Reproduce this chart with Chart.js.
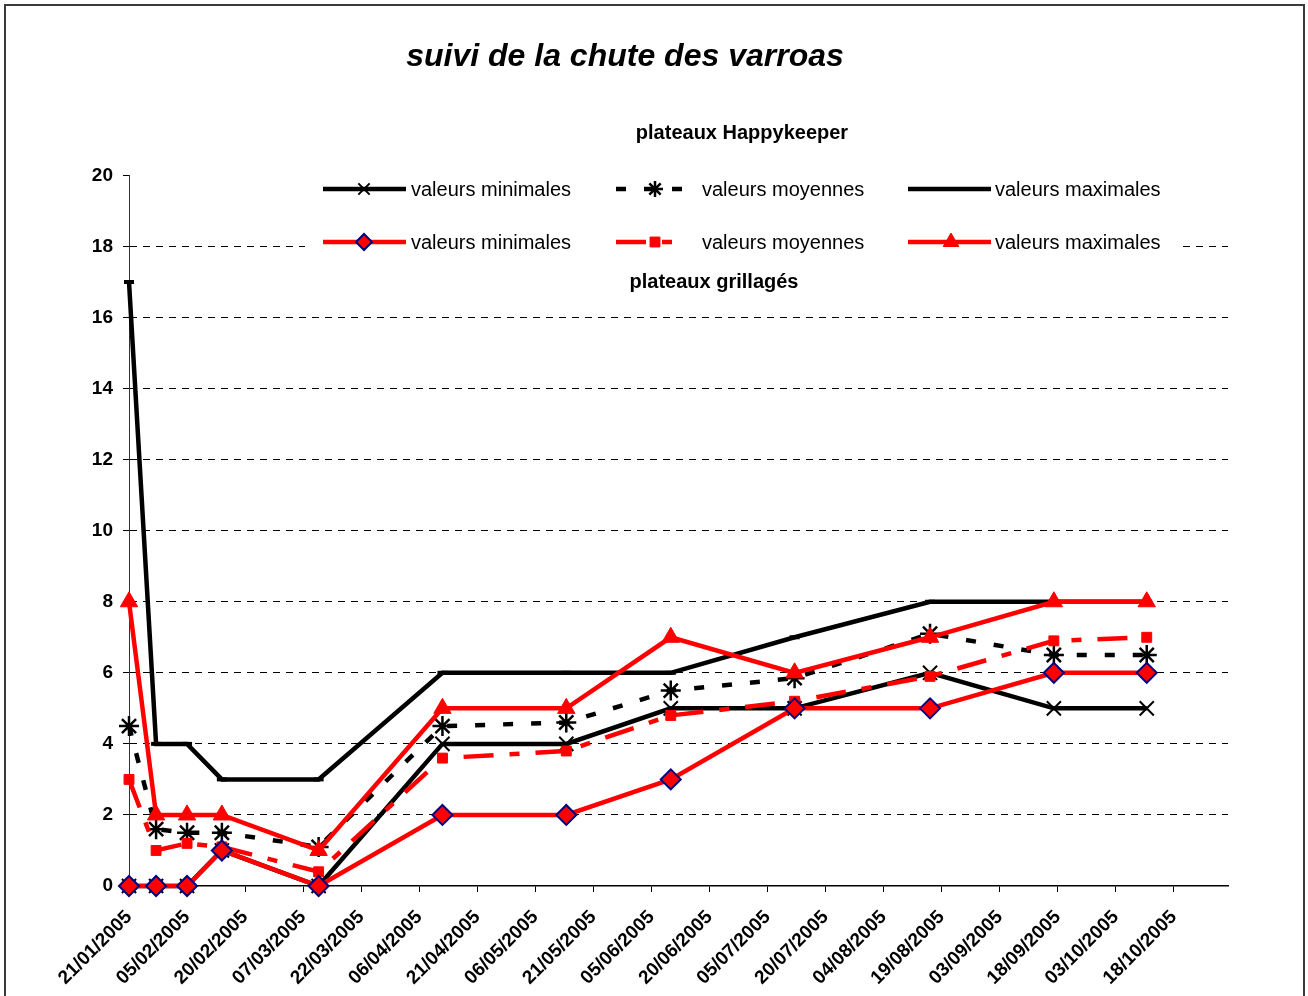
<!DOCTYPE html>
<html>
<head>
<meta charset="utf-8">
<title>suivi de la chute des varroas</title>
<script src="https://cdn.jsdelivr.net/npm/chart.js@4.4.1/dist/chart.umd.min.js"></script>
<style>
  html, body { margin: 0; padding: 0; background: #fff; }
  #wrap { width: 1308px; height: 996px; }
</style>
</head>
<body>
<div id="wrap"><canvas id="chart" width="1308" height="996"></canvas></div>
<script>
// --- DONNÉES ---
const tickDates = ['21/01/2005', '05/02/2005', '20/02/2005', '07/03/2005', '22/03/2005', '06/04/2005',
  '21/04/2005', '06/05/2005', '21/05/2005', '05/06/2005', '20/06/2005', '05/07/2005', '20/07/2005',
  '04/08/2005', '19/08/2005', '03/09/2005', '18/09/2005', '03/10/2005', '18/10/2005'];

// dates des relevés
const sampleDates = ['21/01/2005', '28/01/2005', '05/02/2005', '14/02/2005', '11/03/2005', '12/04/2005',
  '14/05/2005', '10/06/2005', '12/07/2005', '16/08/2005', '17/09/2005', '11/10/2005'];

// plateaux Happykeeper
const happyMin = [0, 0, 0, 1, 0, 4, 4, 5, 5, 6, 5, 5];
const happyMoy = [4.5, 1.6, 1.5, 1.5, 1.1, 4.5, 4.6, 5.5, 5.85, 7.1, 6.5, 6.5];
const happyMax = [17, 4, 4, 3, 3, 6, 6, 6, 7, 8, 8, 8];

// plateaux grillagés
const grilMin = [0, 0, 0, 1, 0, 2, 2, 3, 5, 5, 6, 6];
const grilMoy = [3, 1, 1.2, 1.1, 0.4, 3.6, 3.8, 4.8, 5.2, 5.9, 6.9, 7];
const grilMax = [8, 2, 2, 2, 1, 5, 5, 7, 6, 7, 8, 8];

const legendLabels = ['valeurs minimales', 'valeurs moyennes', 'valeurs maximales'];

const FONT = "'Liberation Sans', Arial, Helvetica, sans-serif";

// jours depuis le 21/01/2005
function dayIndex(str) {
  const [d, m, y] = str.split('/').map(Number);
  const t0 = Date.UTC(2005, 0, 21);
  return Math.round((Date.UTC(y, m - 1, d) - t0) / 86400000);
}

function toPoints(values) {
  return values.map((v, i) => ({ x: dayIndex(sampleDates[i]), y: v }));
}

const RED = '#ff0000';

// --- PLUGIN : cadre, légende intégrée ---
const framePlugin = {
  id: 'frame',
  beforeDraw(chart) {
    const ctx = chart.ctx;
    ctx.save();
    ctx.fillStyle = '#fff';
    ctx.fillRect(0, 0, chart.width, chart.height);
    ctx.strokeStyle = '#3a3a3a';
    ctx.lineWidth = 2;
    ctx.strokeRect(5, 5, 1299, chart.height + 10);
    ctx.restore();
  }
};

const insideLegend = {
  id: 'insideLegend',
  afterDraw(chart) {
    const ctx = chart.ctx;
    const cols = [
      { x0: 323, x1: 406, mk: 364, tx: 411 },
      { x0: 616, x1: 682, mk: 655, tx: 702 },
      { x0: 908, x1: 991, mk: 951, tx: 995 }
    ];
    const rows = [189, 242];
    ctx.save();
    ctx.fillStyle = '#fff';
    ctx.fillRect(305, 168, 878, 92);

    ctx.fillStyle = '#000';
    ctx.textAlign = 'center';
    ctx.textBaseline = 'middle';
    ctx.font = 'bold 20px ' + FONT;
    ctx.fillText('plateaux Happykeeper', 742, 133);
    ctx.fillText('plateaux grillagés', 714, 282);

    chart.data.datasets.forEach((ds, i) => {
      const c = cols[i % 3];
      const y = rows[Math.floor(i / 3)];
      ctx.save();
      ctx.strokeStyle = ds.borderColor;
      ctx.lineWidth = ds.borderWidth;
      ctx.setLineDash(ds.borderDash || []);
      ctx.beginPath();
      ctx.moveTo(c.x0, y);
      ctx.lineTo(c.x1, y);
      ctx.stroke();
      ctx.restore();
      if (Chart.helpers && Chart.helpers.drawPoint) {
        ctx.save();
        ctx.fillStyle = ds.pointBackgroundColor;
        ctx.strokeStyle = ds.pointBorderColor;
        ctx.lineWidth = ds.pointBorderWidth;
        Chart.helpers.drawPoint(ctx, {
          pointStyle: ds.pointStyle,
          radius: ds.legendRadius,
          rotation: 0,
          borderWidth: ds.pointBorderWidth
        }, c.mk, y);
        ctx.restore();
      }
      ctx.fillStyle = '#000';
      ctx.textAlign = 'left';
      ctx.font = '20px ' + FONT;
      ctx.fillText(ds.label, c.tx, y + 1);
    });
    ctx.restore();
  }
};

const datasets = [
  {
    label: legendLabels[0], data: toPoints(happyMin), order: 3, clip: false,
    borderColor: '#000', borderWidth: 4.5,
    pointStyle: 'crossRot', pointRadius: 10, legendRadius: 8,
    pointBorderColor: '#000', pointBackgroundColor: '#000', pointBorderWidth: 2
  },
  {
    label: legendLabels[1], data: toPoints(happyMoy), order: 4, clip: false,
    borderColor: '#000', borderWidth: 4.5, borderDash: [10, 18],
    pointStyle: 'star', pointRadius: 10, legendRadius: 8,
    pointBorderColor: '#000', pointBackgroundColor: '#000', pointBorderWidth: 2.5
  },
  {
    label: legendLabels[2], data: toPoints(happyMax), order: 5, clip: false,
    borderColor: '#000', borderWidth: 4.5,
    pointStyle: 'line', pointRadius: 5, legendRadius: 5,
    pointBorderColor: '#000', pointBackgroundColor: '#000', pointBorderWidth: 4
  },
  {
    label: legendLabels[0], data: toPoints(grilMin), order: 0, clip: false,
    borderColor: RED, borderWidth: 4.5,
    pointStyle: 'rectRot', pointRadius: 10, legendRadius: 8,
    pointBorderColor: '#000080', pointBackgroundColor: RED, pointBorderWidth: 2
  },
  {
    label: legendLabels[1], data: toPoints(grilMoy), order: 2, clip: false,
    borderColor: RED, borderWidth: 4.5, borderDash: [30, 16, 10, 16],
    pointStyle: 'rect', pointRadius: 7, legendRadius: 7,
    pointBorderColor: RED, pointBackgroundColor: RED, pointBorderWidth: 1
  },
  {
    label: legendLabels[2], data: toPoints(grilMax), order: 1, clip: false,
    borderColor: RED, borderWidth: 4.5,
    pointStyle: 'triangle', pointRadius: 10, legendRadius: 9,
    pointBorderColor: RED, pointBackgroundColor: RED, pointBorderWidth: 1
  }
];

new Chart(document.getElementById('chart'), {
  type: 'line',
  data: { datasets },
  options: {
    responsive: false,
    animation: false,
    devicePixelRatio: 1,
    layout: { padding: { left: 22, right: 80, top: 0, bottom: 0 } },
    elements: { line: { tension: 0, fill: false }, point: { hoverRadius: 10 } },
    plugins: {
      legend: { display: false },
      tooltip: { enabled: false },
      title: {
        display: true,
        text: 'suivi de la chute des varroas',
        color: '#000',
        font: { family: FONT, size: 32, weight: 'bold', style: 'italic', lineHeight: 1.2 },
        padding: { top: 38, bottom: 99 }
      }
    },
    scales: {
      x: {
        type: 'linear',
        min: 0,
        max: 284,
        afterBuildTicks: (scale) => {
          scale.ticks = tickDates.map(d => ({ value: dayIndex(d) }));
        },
        afterFit: (scale) => { scale.height = 110; },
        grid: { display: true, drawOnChartArea: false, drawTicks: true, tickLength: 6, tickColor: '#000', color: '#000' },
        border: { display: true, color: '#000', width: 1.5 },
        ticks: {
          autoSkip: false,
          maxRotation: 45,
          minRotation: 45,
          padding: 14,
          color: '#000',
          font: { family: FONT, size: 19, weight: 'bold' },
          callback: (value, index) => tickDates[index]
        }
      },
      y: {
        min: 0,
        max: 20,
        afterFit: (scale) => { scale.width = 107; },
        grid: {
          color: (c) => (c.tick && (c.tick.value === 0 || c.tick.value === 20)) ? 'rgba(0,0,0,0)' : '#000',
          lineWidth: 1,
          tickColor: '#000',
          tickLength: 6,
          tickBorderDash: []
        },
        border: { display: true, color: '#333', width: 1, dash: [7, 6] },
        ticks: {
          stepSize: 2,
          padding: 10,
          color: '#000',
          font: { family: FONT, size: 19, weight: 'bold' }
        }
      }
    }
  },
  plugins: [framePlugin, insideLegend]
});
</script>
</body>
</html>
